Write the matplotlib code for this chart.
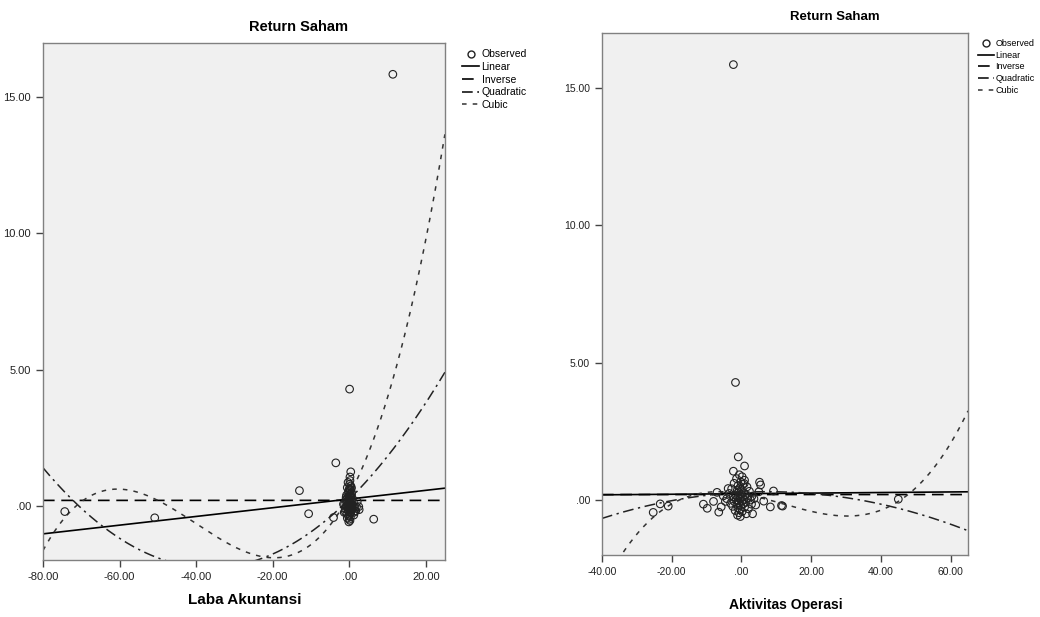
import numpy as np
import matplotlib.pyplot as plt
from matplotlib.lines import Line2D
from matplotlib.ticker import FuncFormatter

plt.rcParams['font.family'] = ['Liberation Sans', 'DejaVu Sans']

# data: return saham (y) dengan dua variabel x
return_saham = [15.85, 4.28, 1.57, 1.24, 1.05, 0.65, 0.55, 0.33, 0.28, -0.22,
                -0.45, -0.30, -0.44, -0.50, -0.04, -0.14, -0.15, -0.05, -0.25, -0.22,
                0.03, -0.20,
                0.92, 0.85, 0.78, 0.72, 0.66, 0.61, 0.57, 0.52, 0.48, 0.45,
                0.41, 0.38, 0.35, 0.32, 0.29, 0.27, 0.24, 0.22, 0.20, 0.18,
                0.16, 0.14, 0.12, 0.10, 0.09, 0.07, 0.05, 0.04, 0.02, 0.01,
                0.00, -0.02, -0.04, -0.06, -0.08, -0.10, -0.12, -0.14, -0.16, -0.18,
                -0.20, -0.23, -0.26, -0.29, -0.32, -0.35, -0.38, -0.42, -0.46, -0.50,
                -0.55, -0.60, 0.15, 0.05, -0.05, -0.15, 0.30, 0.42, -0.25, 0.60]

laba_akuntansi = [11.4, 0.1, -3.5, 0.4, 0.2, 0.6, -13.0, 0.3, -0.4, -74.3,
                  -50.8, -10.6, -4.1, 6.4, 2.5, -0.3, 0.5, -0.6, 1.2, -1.0,
                  0.8, 1.5,
                  0.2, -0.3, 0.1, 0.4, -0.5, 0.0, 0.3, -0.2, 0.6, -0.1,
                  0.2, -0.7, 0.5, 0.1, -0.4, 0.8, -0.1, 0.3, -0.9, 0.0,
                  0.6, -0.3, 1.1, 0.2, -0.6, 0.4, -1.2, 0.1, 0.7, -0.2,
                  0.3, -0.8, 1.4, 0.0, -0.4, 0.5, -1.0, 0.9, 0.2, -0.3,
                  1.7, -0.1, 0.4, -0.6, 0.1, 1.2, -0.2, 0.3, -0.5, 0.0,
                  0.2, -0.1, 2.1, -1.5, 1.9, 2.6, -0.8, 0.6, -1.3, 0.3]

aktivitas_operasi = [-2.3, -1.7, -0.9, 0.9, -2.3, 5.2, 5.5, 9.2, -7.0, -21.0,
                     -25.3, -9.8, -6.5, 3.2, 6.4, -23.3, -10.9, -8.0, 8.3, 11.8,
                     45.0, 11.5,
                     -0.6, 0.2, -1.4, 0.9, -0.2, -2.1, 0.4, -1.0, 1.6, -0.4,
                     -2.8, 0.0, -1.2, 2.3, -0.8, 0.6, -3.5, -0.1, 1.1, -1.7,
                     -0.5, 3.0, -2.4, 0.3, -1.1, 1.8, -4.2, -0.3, 0.7, -1.5,
                     2.6, -0.9, 0.1, -2.0, 1.3, -0.6, -3.1, 0.5, -1.3, 4.1,
                     -0.2, -2.5, 0.9, -1.0, 2.0, -0.4, -1.8, 0.2, -0.7, 1.4,
                     -1.1, -0.3, -5.2, 3.6, -4.6, 2.9, 5.0, -3.8, -5.8, 0.8]

# koefisien model (b0, b1, b2, b3) dibaca dari kurva
laba_linear = [0.24, 0.016]
laba_inverse = [0.19, -0.0003]
laba_quadratic = [0.229, 0.1389, 0.0019177]
laba_cubic = [0.38, 0.2628, 0.008868, 7.376e-5]

operasi_linear = [0.232, 0.00105]
operasi_inverse = [0.20, -0.0003]
operasi_quadratic = [0.28, 0.0065, -0.00043058]
operasi_cubic = [0.2327, -0.020934, -0.0012725, 3.5505e-5]


def fmt(v, pos):
    s = f"{v:.2f}"
    if s.startswith("0"):
        s = s[1:]
    return s


def poly(c, x):
    return sum(b * x ** i for i, b in enumerate(c))


def draw(ax, x, y, xlim, lin, inv, quad, cub, ticksize):
    ax.set_facecolor('#F0F0F0')
    ax.scatter(x, y, s=30, facecolors='none', edgecolors='#222222', linewidths=0.8, zorder=3)
    xx = np.linspace(xlim[0], xlim[1], 401)
    xx = xx[np.abs(xx) > 1e-6]
    ax.plot(xx, poly(lin, xx), color='black', lw=1.2, ls='-')
    ax.plot(xx, inv[0] + inv[1] / xx, color='black', lw=1.2, ls=(0, (7, 4)))
    ax.plot(xx, poly(quad, xx), color='#222222', lw=1.1, ls=(0, (7, 3, 1.5, 3)))
    ax.plot(xx, poly(cub, xx), color='#333333', lw=1.1, ls=(0, (3, 4)))
    ax.set_xlim(xlim)
    ax.set_ylim(-2, 17)
    ax.set_yticks([0, 5, 10, 15])
    ax.xaxis.set_major_formatter(FuncFormatter(fmt))
    ax.yaxis.set_major_formatter(FuncFormatter(fmt))
    ax.tick_params(direction='out', length=5, width=1, color='#444444',
                   labelsize=ticksize, labelcolor='#222222')
    for sp in ax.spines.values():
        sp.set_color('#808080')
        sp.set_linewidth(1.0)


fig = plt.figure(figsize=(10.4, 6.17), dpi=100)

ax1 = fig.add_axes([0.0413, 0.0924, 0.3865, 0.8379])
draw(ax1, laba_akuntansi, return_saham, (-80, 25),
     laba_linear, laba_inverse, laba_quadratic, laba_cubic, 8)
ax1.set_xticks([-80, -60, -40, -20, 0, 20])

ax2 = fig.add_axes([0.5788, 0.1005, 0.352, 0.846])
draw(ax2, aktivitas_operasi, return_saham, (-40, 65),
     operasi_linear, operasi_inverse, operasi_quadratic, operasi_cubic, 7.5)
ax2.set_xticks([-40, -20, 0, 20, 40, 60])

fig.text(0.287, 0.956, 'Return Saham', ha='center', va='center', fontsize=10.5, fontweight='bold')
fig.text(0.803, 0.972, 'Return Saham', ha='center', va='center', fontsize=9.5, fontweight='bold')
fig.text(0.235, 0.028, 'Laba Akuntansi', ha='center', va='center', fontsize=11, fontweight='bold')
fig.text(0.756, 0.019, 'Aktivitas Operasi', ha='center', va='center', fontsize=10, fontweight='bold')

handles = [
    Line2D([], [], ls='none', marker='o', mfc='none', mec='#222222', ms=5),
    Line2D([], [], color='black', lw=1.2, ls='-'),
    Line2D([], [], color='black', lw=1.2, ls=(0, (7, 4))),
    Line2D([], [], color='black', lw=1.1, ls=(0, (7, 3, 1.5, 3))),
    Line2D([], [], color='#333333', lw=1.1, ls=(0, (3, 4))),
]
labels = ['Observed', 'Linear', 'Inverse', 'Quadratic', 'Cubic']

fig.legend(handles, labels, loc='upper left', bbox_to_anchor=(0.435, 0.935),
           frameon=False, fontsize=7.5, handlelength=1.7, handletextpad=0.2,
           labelspacing=0.25)
fig.legend(handles, labels, loc='upper left', bbox_to_anchor=(0.933, 0.95),
           frameon=False, fontsize=6.5, handlelength=1.7, handletextpad=0.2,
           labelspacing=0.3)

plt.savefig('out.png', dpi=100)
